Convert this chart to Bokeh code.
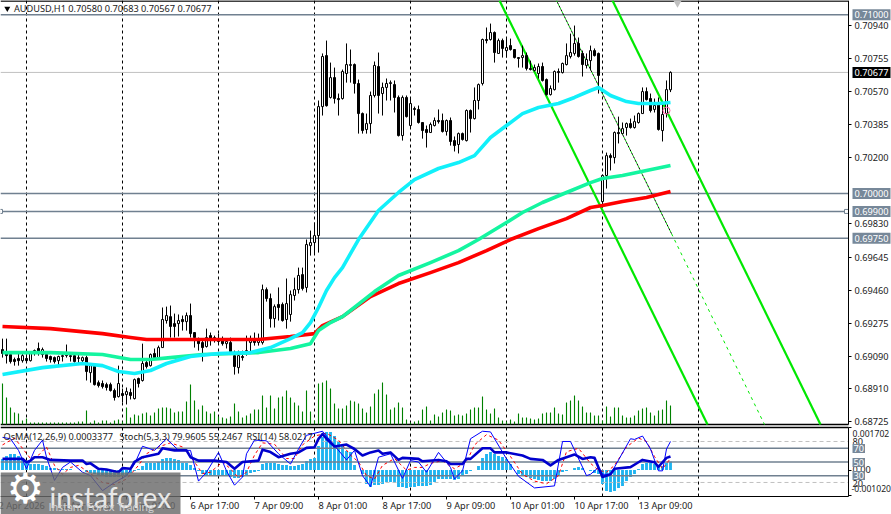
from bokeh.plotting import figure
from bokeh.core.properties import value
from bokeh.models import Range1d, LinearAxis, FixedTicker, Label, BoxAnnotation, NumeralTickFormatter
from bokeh.embed import file_html
from bokeh.resources import INLINE

symbol = "AUDUSD,H1"
opens = [
0.69128,0.69117,0.69100,0.69072,0.69078,0.69066,0.69078,0.69066,0.69122,0.69134,
0.69100,0.69100,0.69089,0.69083,0.69066,0.69089,0.69094,0.69094,0.69094,0.69078,
0.69066,0.69083,0.68999,0.69033,0.68943,0.68938,0.68932,0.68932,0.68899,0.68865,
0.68882,0.68876,0.68888,0.68854,0.68966,0.68955,0.69055,0.69038,0.69106,0.69083,
0.69139,0.69290,0.69312,0.69273,0.69273,0.69296,0.69284,0.69318,0.69223,0.69178,
0.69167,0.69145,0.69206,0.69189,0.69184,0.69178,0.69161,0.69167,0.69094,0.69027,
0.69089,0.69111,0.69167,0.69189,0.69167,0.69167,0.69463,0.69413,0.69301,0.69380,
0.69380,0.69296,0.69324,0.69430,0.69463,0.69547,0.69475,0.69709,0.69726,0.69765,
0.70486,0.70771,0.70537,0.70648,0.70531,0.70531,0.70671,0.70716,0.70721,0.70615,
0.70447,0.70358,0.70391,0.70548,0.70710,0.70559,0.70593,0.70615,0.70609,0.70537,
0.70324,0.70537,0.70380,0.70475,0.70470,0.70397,0.70358,0.70341,0.70380,0.70408,
0.70408,0.70347,0.70408,0.70296,0.70274,0.70335,0.70296,0.70464,0.70419,0.70520,
0.70615,0.70861,0.70861,0.70900,0.70783,0.70855,0.70799,0.70827,0.70805,0.70760,
0.70760,0.70771,0.70699,0.70688,0.70671,0.70710,0.70637,0.70553,0.70581,0.70682,
0.70676,0.70721,0.70766,0.70783,0.70839,0.70783,0.70716,0.70743,0.70799,0.70783,
0.69955,0.70101,0.70212,0.70201,0.70341,0.70335,0.70369,0.70391,0.70369,0.70397,
0.70447,0.70570,0.70531,0.70470,0.70503,0.70352,0.70447,0.70580]
highs = [
0.69189,0.69189,0.69111,0.69083,0.69106,0.69106,0.69111,0.69117,0.69128,0.69167,
0.69139,0.69111,0.69094,0.69089,0.69094,0.69106,0.69156,0.69106,0.69106,0.69100,
0.69089,0.69094,0.69050,0.69038,0.68955,0.68955,0.68943,0.68943,0.68910,0.69038,
0.68910,0.68916,0.68910,0.68966,0.68971,0.69161,0.69066,0.69106,0.69134,0.69150,
0.69363,0.69368,0.69374,0.69329,0.69324,0.69318,0.69335,0.69385,0.69223,0.69195,
0.69189,0.69245,0.69223,0.69206,0.69217,0.69201,0.69189,0.69195,0.69122,0.69122,
0.69122,0.69206,0.69206,0.69223,0.69217,0.69491,0.69475,0.69441,0.69380,0.69475,
0.69391,0.69525,0.69458,0.69530,0.69586,0.69586,0.69743,0.69793,0.69838,0.70520,
0.70783,0.70855,0.70732,0.70704,0.70559,0.70693,0.70839,0.70805,0.70727,0.70637,
0.70453,0.70447,0.70570,0.70738,0.70788,0.70620,0.70643,0.70632,0.70632,0.70548,
0.70548,0.70548,0.70531,0.70486,0.70492,0.70397,0.70380,0.70397,0.70425,0.70470,
0.70447,0.70414,0.70425,0.70319,0.70341,0.70341,0.70470,0.70470,0.70593,0.70615,
0.70866,0.70928,0.70950,0.70906,0.70866,0.70866,0.70872,0.70866,0.70805,0.70760,
0.70827,0.70788,0.70743,0.70721,0.70727,0.70732,0.70643,0.70604,0.70688,0.70699,
0.70732,0.70839,0.70894,0.70939,0.70872,0.70799,0.70783,0.70827,0.70811,0.70788,
0.70106,0.70229,0.70224,0.70347,0.70430,0.70397,0.70397,0.70419,0.70436,0.70453,
0.70593,0.70593,0.70559,0.70531,0.70537,0.70503,0.70632,0.70683]
lows = [
0.69083,0.69050,0.69050,0.69038,0.69038,0.69055,0.69055,0.69061,0.69094,0.69094,
0.69083,0.69061,0.69055,0.69050,0.69038,0.69061,0.69083,0.69061,0.69055,0.69050,
0.69055,0.68955,0.68943,0.68927,0.68916,0.68910,0.68899,0.68893,0.68843,0.68860,
0.68832,0.68821,0.68849,0.68849,0.68916,0.68949,0.69022,0.69033,0.69072,0.69078,
0.69139,0.69273,0.69195,0.69195,0.69201,0.69234,0.69234,0.69195,0.69139,0.69122,
0.69061,0.69139,0.69150,0.69167,0.69156,0.69150,0.69134,0.69111,0.68988,0.68994,
0.69066,0.69094,0.69111,0.69150,0.69150,0.69156,0.69396,0.69251,0.69251,0.69290,
0.69284,0.69245,0.69284,0.69402,0.69441,0.69458,0.69447,0.69653,0.69665,0.69670,
0.70436,0.70486,0.70531,0.70503,0.70436,0.70525,0.70620,0.70620,0.70559,0.70335,
0.70335,0.70335,0.70335,0.70537,0.70447,0.70436,0.70520,0.70520,0.70453,0.70319,
0.70296,0.70425,0.70369,0.70436,0.70391,0.70307,0.70257,0.70341,0.70375,0.70391,
0.70341,0.70324,0.70268,0.70235,0.70224,0.70296,0.70291,0.70341,0.70414,0.70470,
0.70604,0.70839,0.70855,0.70732,0.70783,0.70760,0.70760,0.70799,0.70755,0.70704,
0.70704,0.70688,0.70688,0.70682,0.70643,0.70626,0.70548,0.70548,0.70576,0.70620,
0.70671,0.70716,0.70755,0.70771,0.70760,0.70654,0.70699,0.70688,0.70766,0.70559,
0.69922,0.70028,0.70129,0.70168,0.70280,0.70330,0.70324,0.70363,0.70363,0.70391,
0.70447,0.70520,0.70453,0.70453,0.70352,0.70291,0.70425,0.70567]
closes = [
0.69106,0.69094,0.69061,0.69061,0.69066,0.69094,0.69066,0.69106,0.69106,0.69111,
0.69128,0.69078,0.69072,0.69061,0.69089,0.69094,0.69100,0.69089,0.69061,0.69083,
0.69083,0.69005,0.69038,0.68932,0.68927,0.68921,0.68916,0.68899,0.68860,0.68938,
0.68871,0.68893,0.68871,0.68960,0.68938,0.69050,0.69033,0.69100,0.69083,0.69139,
0.69296,0.69318,0.69257,0.69257,0.69290,0.69284,0.69318,0.69217,0.69195,0.69161,
0.69139,0.69195,0.69189,0.69195,0.69173,0.69161,0.69173,0.69117,0.69033,0.69094,
0.69083,0.69122,0.69178,0.69167,0.69189,0.69463,0.69413,0.69301,0.69368,0.69363,
0.69290,0.69385,0.69435,0.69463,0.69542,0.69469,0.69715,0.69726,0.69765,0.70486,
0.70766,0.70491,0.70648,0.70531,0.70525,0.70682,0.70721,0.70721,0.70615,0.70447,
0.70352,0.70391,0.70548,0.70716,0.70548,0.70593,0.70615,0.70620,0.70537,0.70324,
0.70537,0.70430,0.70503,0.70470,0.70397,0.70352,0.70341,0.70386,0.70408,0.70402,
0.70347,0.70408,0.70291,0.70268,0.70335,0.70302,0.70464,0.70419,0.70520,0.70609,
0.70861,0.70855,0.70900,0.70788,0.70855,0.70811,0.70816,0.70805,0.70760,0.70755,
0.70771,0.70699,0.70693,0.70704,0.70710,0.70632,0.70553,0.70587,0.70682,0.70676,
0.70727,0.70771,0.70788,0.70839,0.70766,0.70721,0.70749,0.70799,0.70771,0.70660,
0.70101,0.70212,0.70201,0.70341,0.70335,0.70363,0.70391,0.70369,0.70402,0.70447,
0.70570,0.70525,0.70464,0.70492,0.70358,0.70442,0.70581,0.70677]
volumes = [
410,270,170,120,110,40,60,20,20,20,
20,20,20,20,20,20,20,20,20,30,
30,140,20,40,20,40,40,20,40,50,
30,170,70,100,90,110,120,90,120,160,
170,170,160,120,130,130,230,400,240,150,
190,130,110,130,80,70,60,80,210,130,
70,90,110,150,150,290,170,290,160,270,
280,340,270,220,190,130,340,130,40,410,
420,440,360,210,160,160,190,240,230,210,
160,120,180,310,350,420,300,150,170,220,
170,50,20,30,40,150,180,40,100,80,
120,150,140,90,100,90,110,150,170,170,
280,150,110,160,70,40,30,50,30,110,
70,70,60,50,60,110,120,120,170,110,
100,220,240,290,240,180,120,120,90,90,
40,180,80,170,170,90,70,70,90,140,
160,170,120,90,140,150,240,190]
osma = [
0.00044,0.00056,0.00064,0.00064,0.00056,0.00044,0.00028,0.00024,0.00024,0.00024,
0.0002,0.00016,0.00008,0.00008,0.00004,0.00004,0.00004,0.00004,0.0,0.0,
0.0,-0.00008,-0.00012,-0.00016,-0.0002,-0.00024,-0.00028,-0.00028,-0.00028,-0.00028,
-0.00024,-0.0002,-0.00012,-0.00004,0.00004,0.00016,0.00028,0.00028,0.00028,0.00032,
0.00044,0.00048,0.00048,0.00044,0.0004,0.00028,0.00028,0.0002,0.00008,-0.00004,
-0.00016,-0.0002,-0.0002,-0.0002,-0.00024,-0.00024,-0.00024,-0.00028,-0.00032,-0.00032,
-0.00028,-0.0002,-0.00012,-0.00008,-0.00004,0.00024,0.00028,0.00028,0.00028,0.00024,
0.0002,0.0002,0.00016,0.00016,0.0002,0.00024,0.00036,0.00044,0.00048,0.00096,
0.00132,0.00152,0.00152,0.00136,0.00116,0.00096,0.00076,0.00072,0.0002,0.0,
-0.00016,-0.00056,-0.00068,-0.0006,-0.0006,-0.00056,-0.00048,-0.00048,-0.00052,-0.00068,
-0.00068,-0.00072,-0.00068,-0.00068,-0.00064,-0.00064,-0.00064,-0.0006,-0.00048,-0.00036,
-0.00036,-0.00036,-0.00036,-0.0004,-0.00036,-0.00024,-0.00016,-0.00004,0.0,0.00016,
0.00048,0.00064,0.00072,0.00064,0.00056,0.00052,0.00044,0.00024,0.0,-0.00016,
-0.00024,-0.00028,-0.00032,-0.00036,-0.0004,-0.00044,-0.00044,-0.00044,-0.00036,-0.00024,
-0.00008,-0.00004,0.0,0.00008,0.00012,0.00008,0.0,-0.00004,-0.00012,-0.00016,
-0.00056,-0.00084,-0.00088,-0.00084,-0.00072,-0.00064,-0.00044,-0.00028,-0.00016,0.00004,
0.00024,0.00028,0.00028,0.00024,0.00016,0.00016,0.00028,0.0003377]

ma_fast_i = [0,10,20,25,29,33,37,41,47,54,62,67,72,75,77,79,81,83,85,89,94,99,103,109,114,118,122,126,130,134,139,143,147,149,152,156,159,164,167]
ma_fast_p = [0.68988,0.69027,0.69050,0.69038,0.69005,0.68994,0.69011,0.69050,0.69089,0.69106,0.69111,0.69139,0.69189,0.69223,0.69279,0.69363,0.69458,0.69530,0.69586,0.69743,0.69905,0.70006,0.70078,0.70140,0.70173,0.70212,0.70313,0.70380,0.70447,0.70481,0.70503,0.70537,0.70576,0.70593,0.70548,0.70514,0.70503,0.70503,0.70509]
ma_mid_i = [0,12,25,32,37,42,50,58,64,72,77,79,82,85,87,93,99,107,114,119,126,130,135,141,147,150,155,161,167]
ma_mid_p = [0.69111,0.69111,0.69100,0.69072,0.69072,0.69083,0.69100,0.69106,0.69111,0.69134,0.69161,0.69234,0.69279,0.69312,0.69346,0.69452,0.69542,0.69614,0.69681,0.69743,0.69838,0.69894,0.69950,0.70006,0.70061,0.70084,0.70101,0.70129,0.70157]
ma_slow_i = [0,12,25,32,36,45,57,64,72,78,80,85,92,99,107,114,121,127,134,141,147,150,155,161,167]
ma_slow_p = [0.69257,0.69245,0.69217,0.69195,0.69184,0.69184,0.69184,0.69184,0.69201,0.69217,0.69262,0.69312,0.69424,0.69497,0.69558,0.69614,0.69681,0.69743,0.69804,0.69860,0.69922,0.69933,0.69955,0.69978,0.70011]

channel_left_i = [124.25, 176.25]
channel_right_i = [152.5, 204.5]
channel_p = [0.71079, 0.68709]
median_solid_i = [138.5, 167.25]
median_solid_p = [0.71079, 0.69776]
median_ray_i = [167.25, 190.5]
median_ray_p = [0.69776, 0.68709]

level_prices = [0.71000, 0.70000, 0.69900, 0.69750]
last_price = 0.70677
price_ticks = [0.70940,0.70755,0.70570,0.70385,0.70200,0.69830,0.69645,0.69460,0.69275,0.69090,0.68910,0.68725]

day_lines_i = [6,30,54,78,102,126,150,174]
time_ticks_i = [-1,15,31,47,63,79,95,111,127,143,159]
time_labels = ["2 Apr 2026","3 Apr 09:00","6 Apr 01:00","6 Apr 17:00","7 Apr 09:00","8 Apr 01:00","8 Apr 17:00","9 Apr 09:00","10 Apr 01:00","10 Apr 17:00","13 Apr 09:00"]

stoch_i = [0,2,4,6,8,10,11,13,15,17,20,22,25,28,31,33,35,38,41,44,47,49,51,54,56,58,60,61,63,66,69,72,74,76,80,83,86,88,90,92,94,97,100,102,104,106,109,112,113,115,117,120,122,126,129,133,138,140,142,146,147,149,150,152,157,158,160,162,164,165,166,167]
stoch_v = [86,84,67,40,67,82,57,23,42,50,35,30,8,20,30,47,73,67,84,67,67,22,35,64,37,16,28,62,82,81,62,47,69,89,95,74,53,67,30,14,57,62,26,52,50,35,64,42,25,37,84,95,94,54.5,29,12,15,80,80,30,32,42,32,32,84,83,88,69,37,37,69,79.9605]
signal_i = [0,3,5,7,9,11,13,15,17,19,22,25,28,31,34,36,39,42,45,48,50,52,55,57,59,61,63,65,68,71,73,75,78,81,84,87,89,91,93,95,98,101,103,105,107,110,113,116,118,121,124,127,130,133,136,139,141,144,147,149,151,153,156,159,161,163,165,167]
signal_v = [75,85,70,55,60,72,45,32,42,45,33,20,17,25,45,62,72,78,72,50,33,35,50,40,27,35,60,78,76,55,55,75,88,92,82,60,50,30,25,45,55,38,42,42,48,52,40,50,75,90,82,58,32,22,18,30,65,70,48,38,35,45,72,85,80,58,40,55.2467]
rsi_i = [0,5,6,7,8,10,12,17,20,21,22,24,26,29,30,32,33,35,39,40,43,46,47,49,53,56,58,60,64,65,67,69,72,74,76,78,79,80,81,83,86,88,90,92,94,95,97,99,100,104,105,109,111,112,115,116,117,120,122,123,126,130,132,135,137,139,143,145,147,148,149,150,152,153,157,159,160,163,164,166,167]
rsi_v = [54.6,54.6,49.7,52,57,57,53,52,52,47,48,40,39,35,41,40,50,57,62,70,67,67,57,52,52,50,40,50,52,68,64.5,57,62,64,70.7,71.6,83.8,91,84,72.6,75.5,69,59.4,64,66.7,62,64,53,56,54.5,51,53,51,47,47,54.5,54.5,70,70,64,64,59.4,54.5,53,45,53,61,54.5,57,56,42,28,32,40,42.5,49.6,53,49.6,43,56,58.0217]
stoch_levels = [80, 20]
rsi_levels = [70, 50, 30]

assert len(opens) == len(highs) == len(lows) == len(closes) == len(volumes) == len(osma) == 168

FONT = "Noto Sans"
SIZE = "9.2px"
TXT = "#222222"
idx = list(range(len(opens)))
X0, X1 = -0.5, 211.5          # bar-index span of the plot area
MAIN_HI, MAIN_LO = 0.71079, 0.68709
SUB_HI, SUB_LO = 100.4, -0.6
PRICE_RANGE = (0.68206, 0.71079)


def ix(i):
    return (i + 0.5) * 4


def price_px(p):
    return (PRICE_RANGE[1] - p) / (PRICE_RANGE[1] - PRICE_RANGE[0]) * 514


p = figure(width=891, height=514, x_range=Range1d(-0.5, 222.25), y_range=Range1d(*PRICE_RANGE),
           output_backend="svg", toolbar_location=None, y_axis_location=None, x_axis_location=None,
           min_border=0, background_fill_color="white", border_fill_color="white", outline_line_color=None)
p.grid.visible = False
p.extra_y_ranges["volume"] = Range1d(-900, 4240)
p.extra_y_ranges["pct"] = Range1d(-26.9, 725.6)
p.extra_y_ranges["osma"] = Range1d(-0.00178, 0.01878)


def label(px, py, text, color=TXT, size=SIZE, font=FONT, bg=None, align="left", baseline="middle", pad=1):
    kw = dict(background_fill_color=bg, padding=pad) if bg else {}
    p.add_layout(Label(x=px, y=py, x_units="canvas", y_units="canvas", text=text, text_font=font,
                       text_font_size=size, text_color=color, text_align=align, text_baseline=baseline,
                       level="overlay", **kw))


def style_axis(a):
    a.major_tick_out = 3
    a.major_tick_in = 0
    a.minor_tick_out = 0
    a.axis_line_color = "black"
    a.major_tick_line_color = "black"


# price scale
ax = LinearAxis(ticker=FixedTicker(ticks=price_ticks), formatter=NumeralTickFormatter(format="0.00000"),
                fixed_location=X1, bounds=(MAIN_LO, MAIN_HI))
ax.major_label_text_font = FONT
ax.major_label_text_font_size = SIZE
ax.major_label_text_color = TXT
ax.major_label_standoff = 3
style_axis(ax)
p.add_layout(ax, "right")

# indicator scale
ay = LinearAxis(y_range_name="osma", ticker=FixedTicker(ticks=[0.0017, 0.0, -0.00102]),
                major_label_overrides={0.0017: "", 0.0: "", -0.00102: ""},
                fixed_location=X1, bounds=(-0.00106, 0.0017))
style_axis(ay)
p.add_layout(ay, "right")

# time scale
bx = LinearAxis(ticker=FixedTicker(ticks=time_ticks_i), major_label_overrides={t: "" for t in time_ticks_i},
                fixed_location=PRICE_RANGE[1] - 496 / 514 * (PRICE_RANGE[1] - PRICE_RANGE[0]), bounds=(X0, X1))
style_axis(bx)
p.add_layout(bx, "below")

DAY_DASH = value([3, 3])

# panel borders
p.segment([X0, X0], [MAIN_HI - 0.00003, MAIN_LO], [X1, X1], [MAIN_HI - 0.00003, MAIN_LO], line_color="black", line_width=1.5)
p.segment([X0], [SUB_HI], [X1], [SUB_HI], line_color="black", line_width=1.5, y_range_name="pct")

# day separators
p.segment(day_lines_i, [MAIN_HI] * 8, day_lines_i, [MAIN_LO] * 8, line_color="black", line_dash=DAY_DASH, line_width=1)
p.segment(day_lines_i, [SUB_HI] * 8, day_lines_i, [SUB_LO] * 8, line_color="black", line_dash=DAY_DASH, line_width=1, y_range_name="pct")

# levels
p.segment([X0] * 4, level_prices, [X1] * 4, level_prices, line_color="#708090", line_width=1.5)
p.segment([X0], [last_price], [X1], [last_price], line_color="#c0c0c0", line_width=1)

p.vbar(x=idx, top=volumes, width=0.28, bottom=0, fill_color="#008000", line_color=None, y_range_name="volume")

p.line(channel_left_i, channel_p, line_color="#00e800", line_width=2.2)
p.line(channel_right_i, channel_p, line_color="#00e800", line_width=2.2)
p.line(median_solid_i, median_solid_p, line_color="#00e800", line_width=1, line_dash=[2, 2])
p.line(median_solid_i, median_solid_p, line_color="black", line_width=1, line_dash=[2, 2], line_dash_offset=2)
p.line(median_ray_i, median_ray_p, line_color="#00e800", line_width=1, line_dash=[3, 4])

p.segment(idx, highs, idx, lows, line_color="black", line_width=1)
up = [i for i in idx if closes[i] >= opens[i]]
dn = [i for i in idx if closes[i] < opens[i]]
p.vbar(x=up, top=[closes[i] for i in up], bottom=[opens[i] for i in up], width=0.5, fill_color="white", line_color="black", line_width=1)
p.vbar(x=dn, top=[opens[i] for i in dn], bottom=[closes[i] for i in dn], width=0.5, fill_color="black", line_color="black", line_width=1)

p.line(ma_slow_i, ma_slow_p, line_color="#ff0000", line_width=3.6, line_join="round")
p.line(ma_mid_i, ma_mid_p, line_color="#14f5a0", line_width=3.6, line_join="round")
p.line(ma_fast_i, ma_fast_p, line_color="#12f0fa", line_width=3.6, line_join="round")

p.scatter([166], [0.70464], marker="circle", size=7, fill_color=None, line_color="#ff5fa8", line_width=1)
p.scatter([168.75], [0.71068], marker="inverted_triangle", size=9, fill_color="#c0c0c0", line_color=None)
p.scatter([-0.5, 211], [0.69900, 0.69900], marker="square", size=4, fill_color="white", line_color="#708090")
p.scatter([1.2], [0.71034], marker="inverted_triangle", size=6, fill_color="black", line_color=None)

# indicators
p.vbar(x=idx, top=osma, bottom=0, width=0.72, fill_color="#1eb4f0", line_color=None, y_range_name="osma")
p.segment([X0] * 2, stoch_levels, [X1] * 2, stoch_levels, line_color="#c0c0c0", line_dash=value([4, 3]), line_width=1, y_range_name="pct")
p.segment([X0] * 3, rsi_levels, [X1] * 3, rsi_levels, line_color="#708090", line_width=1.5, y_range_name="pct")
p.line(signal_i, signal_v, line_color="#ff0000", line_width=1, line_dash=[3, 3], y_range_name="pct")
p.line(stoch_i, stoch_v, line_color="#0000ff", line_width=1, y_range_name="pct")
p.line(rsi_i, rsi_v, line_color="#0000cd", line_width=2.6, line_join="round", y_range_name="pct")

# texts
label(13.5, 8, f"{symbol}  {opens[-1]:.5f} {highs[-1]:.5f} {lows[-1]:.5f} {closes[-1]:.5f}")
for lv in level_prices:
    label(852, price_px(lv), f"{lv:.5f}", color="white", bg="#778899", pad=2)
label(852, price_px(last_price), f"{last_price:.5f}", color="white", bg="black", pad=2)

label(3, 436, f"OsMA(12,26,9) {osma[-1]:.7f}")
label(119, 436, f"Stoch(5,3,3) {stoch_v[-1]:.4f} {signal_v[-1]:.4f}")
label(246, 436, f"RSI(14) {rsi_v[-1]:.4f}")

label(852, 433, "0.001702", size="8.6px")
label(851, 488, "-0.001020", size="8.6px")
for txt, py in [("80", 441), ("0.00", 469), ("20", 483)]:
    label(852, py, txt)
for lv, py in zip(rsi_levels, [448, 462, 475]):
    label(852, py, str(lv), color="white", bg="#778899")

for t, lab in zip(time_ticks_i, time_labels):
    label(ix(t), 505, lab)

# logo
p.add_layout(BoxAnnotation(left=0, right=180, top=472, bottom=514, left_units="canvas", right_units="canvas",
                           top_units="canvas", bottom_units="canvas", fill_color="#6a6a6a", fill_alpha=0.82,
                           line_color=None, level="overlay"))
label(6, 488, "\u2699", color="white", size="42px", font="DejaVu Sans")
label(49, 496, "instaforex", color="#e8e8e8", size="28px", font="Lato", baseline="alphabetic")
label(48, 506, "Instant Forex Trading", color="#cfcfcf", size="11.5px", font="Lato")

open("out.html", "w").write(file_html(p, INLINE))
